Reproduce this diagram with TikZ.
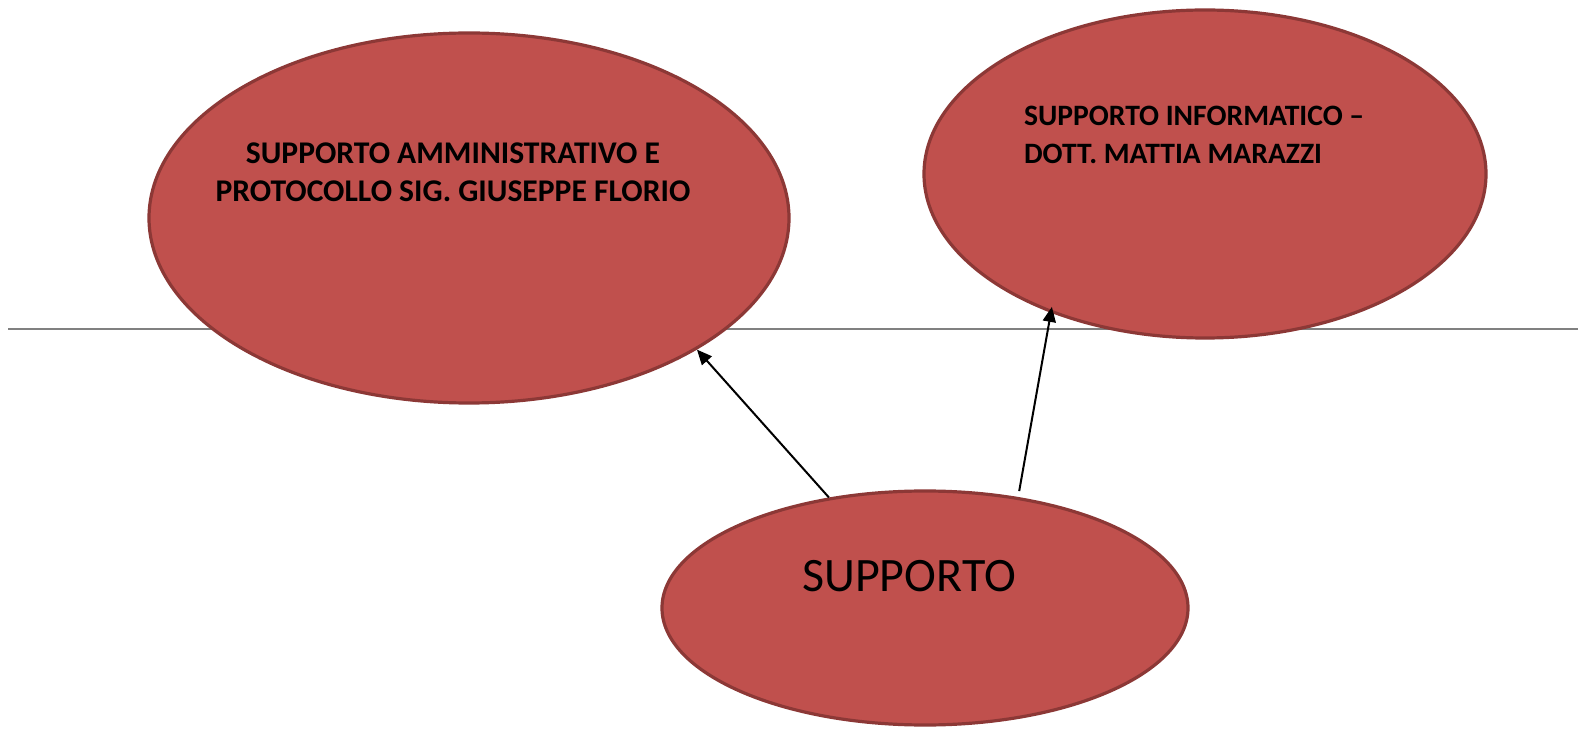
\documentclass[tikz,border=0pt]{standalone}
\usepackage{fontspec}
\setmainfont{Carlito}
\usetikzlibrary{shapes.geometric,arrows.meta}
\definecolor{rosso}{HTML}{C0504D}
\definecolor{bordo}{HTML}{8C3836}

\begin{document}
\begin{tikzpicture}[x=0.5pt,y=-0.5pt,
		bolla/.style={ellipse, fill=rosso, draw=bordo, line width=1.6pt, inner sep=0pt},
		titolo/.style={font=\bfseries\fontsize{15.8}{19}\selectfont},
		freccia/.style={-{Triangle[length=7.5pt,width=6.5pt]}, line width=1pt}]
		    \useasboundingbox (0,0) rectangle (1580,732);

					\coordinate (lineaA) at (8,329);
					\coordinate (lineaB) at (1578,329);
					\draw[gray, line width=0.75pt] (lineaA) -- (lineaB); % linea orizzontale

					\node[bolla, minimum width=320pt, minimum height=185pt] (amm) at (469,218) {};
					\node[bolla, minimum width=281pt, minimum height=164pt] (inf) at (1205,174) {};
					\node[bolla, minimum width=263pt, minimum height=117pt] (sup) at (925,608) {};

					\node[titolo, align=center] (ammT) at ([xshift=-8pt,yshift=23pt]amm.center) {SUPPORTO AMMINISTRATIVO E\\PROTOCOLLO SIG. GIUSEPPE FLORIO};
					\node[titolo, font=\bfseries\fontsize{14.8}{19}\selectfont, align=left, anchor=west] (infT) at ([xshift=-94pt,yshift=19.5pt]inf.center) {SUPPORTO INFORMATICO –\\DOTT. MATTIA MARAZZI};
					\node[font=\fontsize{24}{28}\selectfont] (supT) at ([xshift=-8pt,yshift=16pt]sup.center) {SUPPORTO};

					\draw[freccia] (sup.131.7) -- (amm.-30.3); % da supporto ad amministrativo
					\draw[freccia, shorten <=3pt, shorten >=-3pt] (sup.50.3) -- (inf.222); % da supporto a informatico
\end{tikzpicture}
\end{document}
